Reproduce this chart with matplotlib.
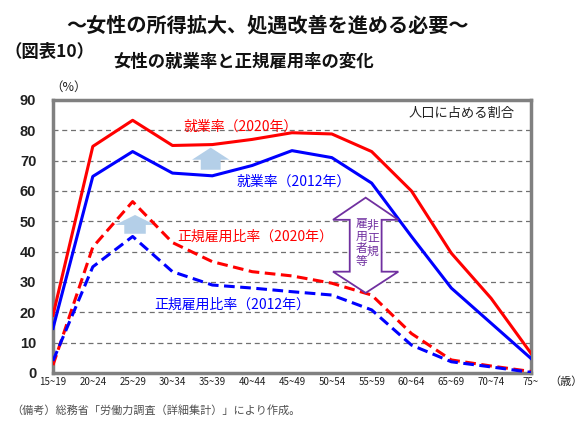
import numpy as np
import matplotlib
matplotlib.use('Agg')
from matplotlib import pyplot as plt
from matplotlib.patches import Polygon

plt.rcParams['font.family'] = ['Noto Sans CJK JP', 'DejaVu Sans']

# Data (% of female population)
ages = ['15~19', '20~24', '25~29', '30~34', '35~39', '40~44', '45~49',
        '50~54', '55~59', '60~64', '65~69', '70~74', '75~']
emp_2020 = [19.0, 74.7, 83.3, 75.0, 75.3, 77.0, 79.2, 78.8, 73.0, 60.0, 39.5, 24.6, 6.5]
emp_2012 = [14.7, 64.8, 73.0, 65.9, 65.0, 68.4, 73.3, 71.0, 62.6, 45.0, 28.0, 16.4, 4.8]
reg_2020 = [2.6, 41.5, 56.5, 43.0, 36.7, 33.4, 32.0, 29.6, 25.7, 13.0, 4.3, 2.3, 0.5]
reg_2012 = [4.0, 35.0, 45.0, 33.4, 29.0, 28.0, 26.8, 25.7, 20.8, 9.2, 3.7, 2.0, 0.2]

fig = plt.figure(figsize=(5.86, 4.24), dpi=100)
ax = fig.add_axes([0.0904, 0.1203, 0.8157, 0.6439])
x = np.arange(len(ages))

# grid
for yv in range(10, 90, 10):
    ax.axhline(yv, color='#707070', linewidth=0.9, linestyle=(0, (4, 3)), zorder=1)

ax.plot(x, emp_2020, color='#FF0000', linewidth=2.2, zorder=4)
ax.plot(x, emp_2012, color='#0000FF', linewidth=2.2, zorder=4)
ax.plot(x, reg_2020, color='#FF0000', linewidth=2.2, linestyle=(0, (3.5, 1.8)), zorder=4)
ax.plot(x, reg_2012, color='#0000FF', linewidth=2.2, linestyle=(0, (3.5, 1.8)), zorder=4)

ax.set_xlim(0, 12)
ax.set_ylim(0, 90)
ax.set_yticks(range(0, 91, 10))
ax.set_yticklabels([str(v) for v in range(0, 91, 10)], fontsize=10.5,
                   fontweight='bold', color='#202020', family='Liberation Sans')
ax.set_xticks(x)
ax.set_xticklabels(ages, fontsize=7, color='#202020')
ax.tick_params(axis='both', length=0, pad=3)
ax.tick_params(axis='y', pad=12)
for s in ax.spines.values():
    s.set_color('#808080')
    s.set_linewidth(2.5)


def block_arrow(xc, half_head, half_shaft, tip, base, bottom):
    return [(xc, tip), (xc + half_head, base), (xc + half_shaft, base),
            (xc + half_shaft, bottom), (xc - half_shaft, bottom),
            (xc - half_shaft, base), (xc - half_head, base)]


# light blue up arrows
ax.add_patch(Polygon(block_arrow(3.96, 0.47, 0.25, 74.3, 70.3, 67.0),
                     closed=True, facecolor='#B4CFE8', edgecolor='none', zorder=3))
ax.add_patch(Polygon(block_arrow(2.06, 0.50, 0.27, 52.1, 48.8, 45.9),
                     closed=True, facecolor='#B4CFE8', edgecolor='none', zorder=3))

# purple double arrow
xc, hh, hs = 7.85, 0.82, 0.40
pts = [(xc, 57.8), (xc + hh, 50.5), (xc + hs, 50.5), (xc + hs, 33.4),
       (xc + hh, 33.4), (xc, 26.4), (xc - hh, 33.4), (xc - hs, 33.4),
       (xc - hs, 50.5), (xc - hh, 50.5)]
ax.add_patch(Polygon(pts, closed=True, facecolor='white', edgecolor='#7030A0',
                     linewidth=1.3, zorder=5))
ax.text(8.03, 44.4, '非\n正\n規', color='#7030A0', fontsize=8.5,
        ha='center', va='center', linespacing=0.95, zorder=6)
ax.text(7.74, 43.0, '雇\n用\n者\n等', color='#7030A0', fontsize=8.5,
        ha='center', va='center', linespacing=0.95, zorder=6)

# series labels
ax.text(3.28, 81.2, '就業率（2020年）', color='#FF0000', fontsize=10, va='center', zorder=6)
ax.text(4.62, 63.0, '就業率（2012年）', color='#0000FF', fontsize=10, va='center', zorder=6)
ax.text(3.13, 44.8, '正規雇用比率（2020年）', color='#FF0000', fontsize=10, va='center', zorder=6)
ax.text(2.53, 22.5, '正規雇用比率（2012年）', color='#0000FF', fontsize=10, va='center', zorder=6)
ax.text(11.6, 85.5, '人口に占める割合', color='#202020', fontsize=9.5,
        ha='right', va='center', zorder=6)

# titles and notes
fig.text(0.456, 0.941, '～女性の所得拡大、処遇改善を進める必要～', fontsize=14.5,
         fontweight='bold', ha='center', va='center', color='#111111')
fig.text(0.008, 0.877, '（図表10）', fontsize=12.5, fontweight='bold',
         ha='left', va='center', color='#111111')
fig.text(0.416, 0.854, '女性の就業率と正規雇用率の変化', fontsize=12.5,
         fontweight='bold', ha='center', va='center', color='#111111')
fig.text(0.086, 0.795, '（%）', fontsize=9, ha='left', va='center', color='#202020')
fig.text(0.938, 0.101, '（歳）', fontsize=8, ha='left', va='center', color='#202020')
fig.text(0.02, 0.032, '（備考）総務省「労働力調査（詳細集計）」により作成。', fontsize=8,
         ha='left', va='center', color='#505050')

fig.savefig('out.png', dpi=100)
